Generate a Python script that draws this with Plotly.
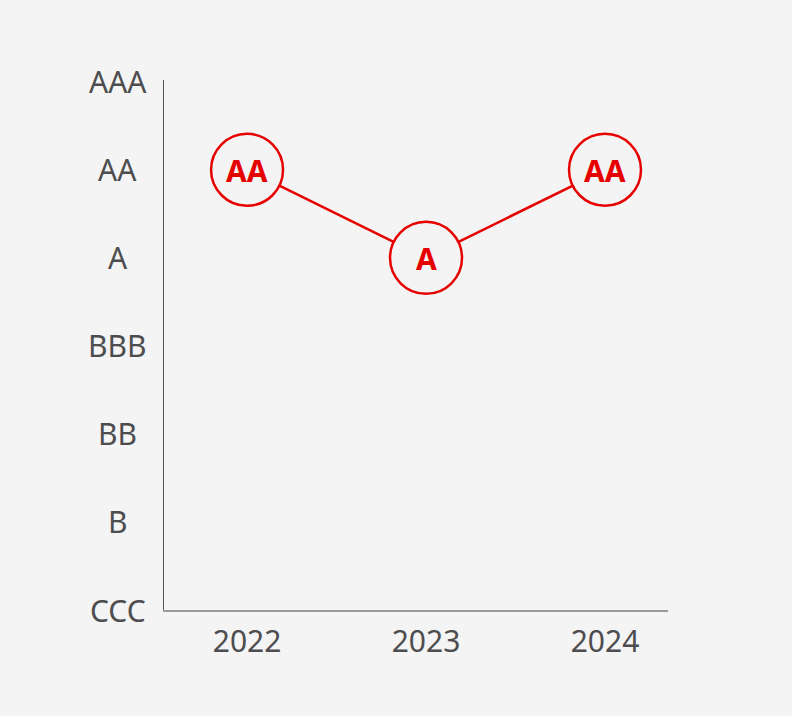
import plotly.graph_objects as go

# Rating scale, bottom to top
rating_scale = ["CCC", "B", "BB", "BBB", "A", "AA", "AAA"]
years = [2022, 2023, 2024]
ratings = ["AA", "A", "AA"]

RED = "#e60000"
BG = "#f4f4f4"
GREY_TEXT = "#4d4d4f"
FONT = "Noto Sans"

fig = go.Figure()
fig.add_trace(go.Scatter(
    x=years,
    y=ratings,
    mode="lines+markers",
    line=dict(color=RED, width=2.5),
    marker=dict(size=72, color=BG, line=dict(color=RED, width=2.5)),
    hoverinfo="skip",
    cliponaxis=False,
    showlegend=False,
))

# Rating text inside each circle
for yr, r in zip(years, ratings):
    fig.add_annotation(
        x=yr, y=r, xref="x", yref="y", text=f"<b>{r}</b>",
        showarrow=False, xanchor="center", yanchor="middle", yshift=-1,
        font=dict(family=FONT, size=30, color=RED),
    )

# Centered rating labels on the left
for r in rating_scale:
    fig.add_annotation(
        x=-0.0913, xref="paper", y=r, yref="y",
        text=r, showarrow=False, xanchor="center", yanchor="middle",
        font=dict(family=FONT, size=30, color=GREY_TEXT),
    )

fig.update_layout(
    width=792, height=716,
    margin=dict(l=164, r=124, t=80, b=106),
    paper_bgcolor=BG, plot_bgcolor=BG,
    font=dict(family=FONT, size=30, color=GREY_TEXT),
    xaxis=dict(
        range=[2021.536, 2024.352],
        tickvals=years, ticktext=[str(y) for y in years],
        showgrid=False, zeroline=False,
        showline=True, linecolor="#9a9a9a", linewidth=2,
        ticks="", ticklabelstandoff=4,
        tickfont=dict(family=FONT, size=30, color=GREY_TEXT),
    ),
    yaxis=dict(
        type="category", categoryorder="array", categoryarray=rating_scale,
        range=[0, 6.02],
        showgrid=False, zeroline=False,
        showline=True, linecolor="#555555", linewidth=1.2,
        showticklabels=False, ticks="",
    ),
)

fig.write_html("out.html")
